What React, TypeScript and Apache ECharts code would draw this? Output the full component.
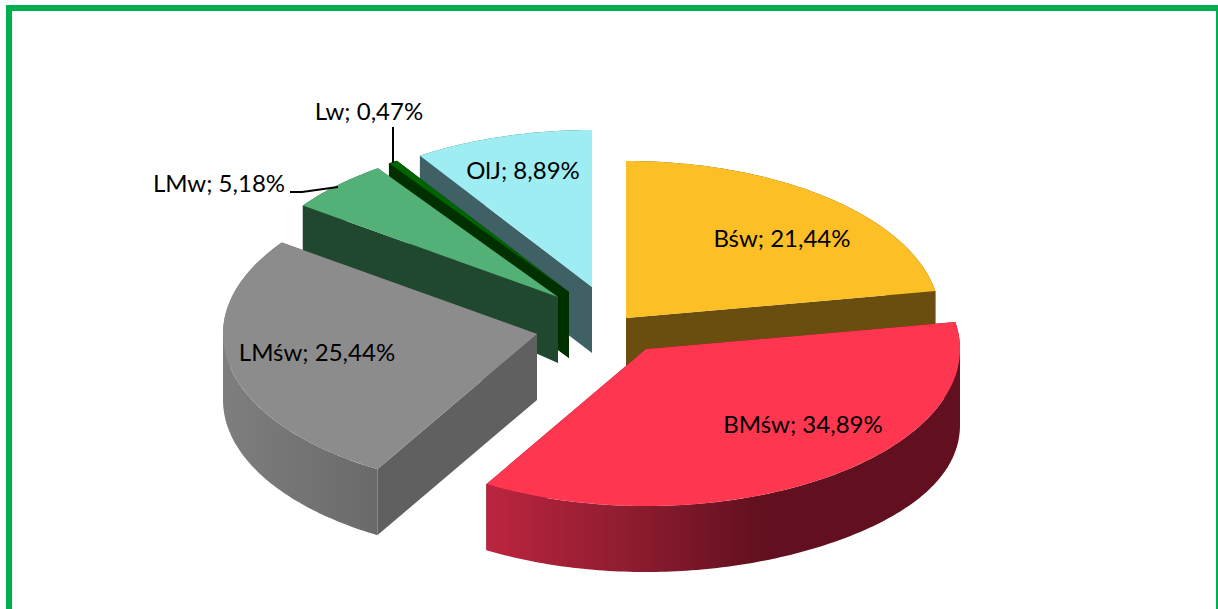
import React, { useEffect, useRef } from "react";
import * as echarts from "echarts";

const categories = ["Bśw", "BMśw", "LMśw", "LMw", "Lw", "OlJ"];
const shares = [21.44, 34.89, 25.44, 5.18, 0.47, 8.89];
const labels = ["Bśw; 21,44%", "BMśw; 34,89%", "LMśw; 25,44%", "LMw; 5,18%", "Lw; 0,47%", "OlJ; 8,89%"];

// Pie geometry (styling, not data)
const CX = 600, CY = 333, RX = 314, RY = 157, DEPTH = 66;
const explodeX = [26, 46, -63, -42, -31, -8];
const explodeY = [-15, 16, 1, -36, -41, -46];
const paintOrder = [4, 5, 3, 2, 1, 0];
const rimTaper = [0, 0, 0, 36, 0, 0];
const rimBulge = [0, 10, 0, 0, 0, 0];
const topColors = ["#FCBF25", "#FF3650", "#8C8C8C", "#53B177", "#006400", "#9DEDF2"];
const faceColors = ["#6A4E10", "#62101F", "#606060", "#20482F", "#003000", "#3F6166"];
const labelX = [782, 803, 317, 219, 369, 523];
const labelY = [237, 423, 351, 182, 110, 169];
const leaders: number[][][] = [[], [], [], [[290, 192], [302, 192], [338, 187]], [[393, 127], [393, 163]], []];

const total = shares.reduce((a, b) => a + b, 0);

function rimSide(i: number): any {
  if (i === 1) {
    return new echarts.graphic.LinearGradient(487, 0, 961, 0, [
      { offset: 0, color: "#BC253F" },
      { offset: 0.3, color: "#8E1C30" },
      { offset: 0.58, color: "#62101F" },
      { offset: 1, color: "#62101F" },
    ], true);
  }
  if (i === 2) {
    return new echarts.graphic.LinearGradient(223, 0, 377, 0, [
      { offset: 0, color: "#7E7E7E" },
      { offset: 1, color: "#6A6A6A" },
    ], true);
  }
  return faceColors[i];
}

function renderSlice(params: any, api: any) {
  const i = params.dataIndex as number;
  let before = 0;
  for (let k = 0; k < i; k++) before += shares[k];
  const value = api.value(0) as number;
  const a0 = (before / total) * Math.PI * 2;
  const a1 = ((before + value) / total) * Math.PI * 2;
  const ax = CX + explodeX[i];
  const ay = CY + explodeY[i];
  const height = (t: number) =>
    DEPTH + rimBulge[i] * Math.pow(Math.max(0, Math.sin(t)), 4) - rimTaper[i] * Math.max(0, Math.cos(t));
  const rimPt = (t: number) => [ax + RX * Math.sin(t), ay - RY * Math.cos(t)];
  const arc = (from: number, to: number) => {
    const steps = Math.max(4, Math.ceil((to - from) * 60));
    const top: number[][] = [];
    const low: number[][] = [];
    for (let s = 0; s <= steps; s++) {
      const t = from + ((to - from) * s) / steps;
      const p = rimPt(t);
      top.push(p);
      low.push([p[0], p[1] + height(t)]);
    }
    return { top, low };
  };
  // The rim is split where its silhouette turns, so that each part's closing edge is vertical.
  const cuts = [a0, ...[Math.PI / 2, (Math.PI * 3) / 2].filter((c) => c > a0 && c < a1), a1];
  const whole = arc(a0, a1);
  const n = whole.top.length - 1;
  const apex = [ax, ay];
  const apexLow = [ax, ay + DEPTH];
  const z = paintOrder[i] * 10;
  const poly = (points: number[][], fill: any, z2: number) => ({
    type: "polygon",
    z2,
    shape: { points },
    style: { fill, stroke: null },
    silent: true,
  });
  const children: any[] = [
    poly([apex, whole.top[0], whole.low[0], apexLow], faceColors[i], z + 1),
    poly([apex, whole.top[n], whole.low[n], apexLow], faceColors[i], z + 2),
  ];
  for (let c = 0; c + 1 < cuts.length; c++) {
    const part = arc(cuts[c], cuts[c + 1]);
    children.push(poly([...part.top, ...part.low.slice().reverse()], rimSide(i), z + 3));
  }
  children.push(poly([apex, ...whole.top], topColors[i], z + 4));
  if (leaders[i].length) {
    children.push({
      type: "polyline",
      z2: 200,
      shape: { points: leaders[i] },
      style: { stroke: "#000000", lineWidth: 2, fill: null },
      silent: true,
    });
  }
  children.push({
    type: "text",
    z2: 300,
    x: labelX[i],
    y: labelY[i],
    style: {
      text: labels[i],
      font: "24px Lato",
      fill: "#000000",
      align: "center",
      verticalAlign: "middle",
    },
    silent: true,
  });
  return { type: "group", children };
}

export default function App() {
  const ref = useRef<HTMLDivElement>(null);
  useEffect(() => {
    const chart = echarts.init(ref.current!, null, { renderer: "svg" });
    chart.setOption({
      animation: false,
      backgroundColor: "#FFFFFF",
      graphic: [
        {
          type: "polyline",
          shape: { points: [[9, 609], [9, 8], [1219, 8], [1219, 609]] },
          style: { stroke: "#00B050", lineWidth: 6, fill: null },
          silent: true,
        },
      ],
      series: [
        {
          type: "custom",
          coordinateSystem: "none",
          renderItem: renderSlice,
          clip: false,
          data: categories.map((name, i) => ({ name, value: [shares[i]] })),
        },
      ],
    });
    return () => chart.dispose();
  }, []);
  return <div ref={ref} style={{ position: "absolute", left: 0, top: 0, width: 1218, height: 609 }} />;
}
